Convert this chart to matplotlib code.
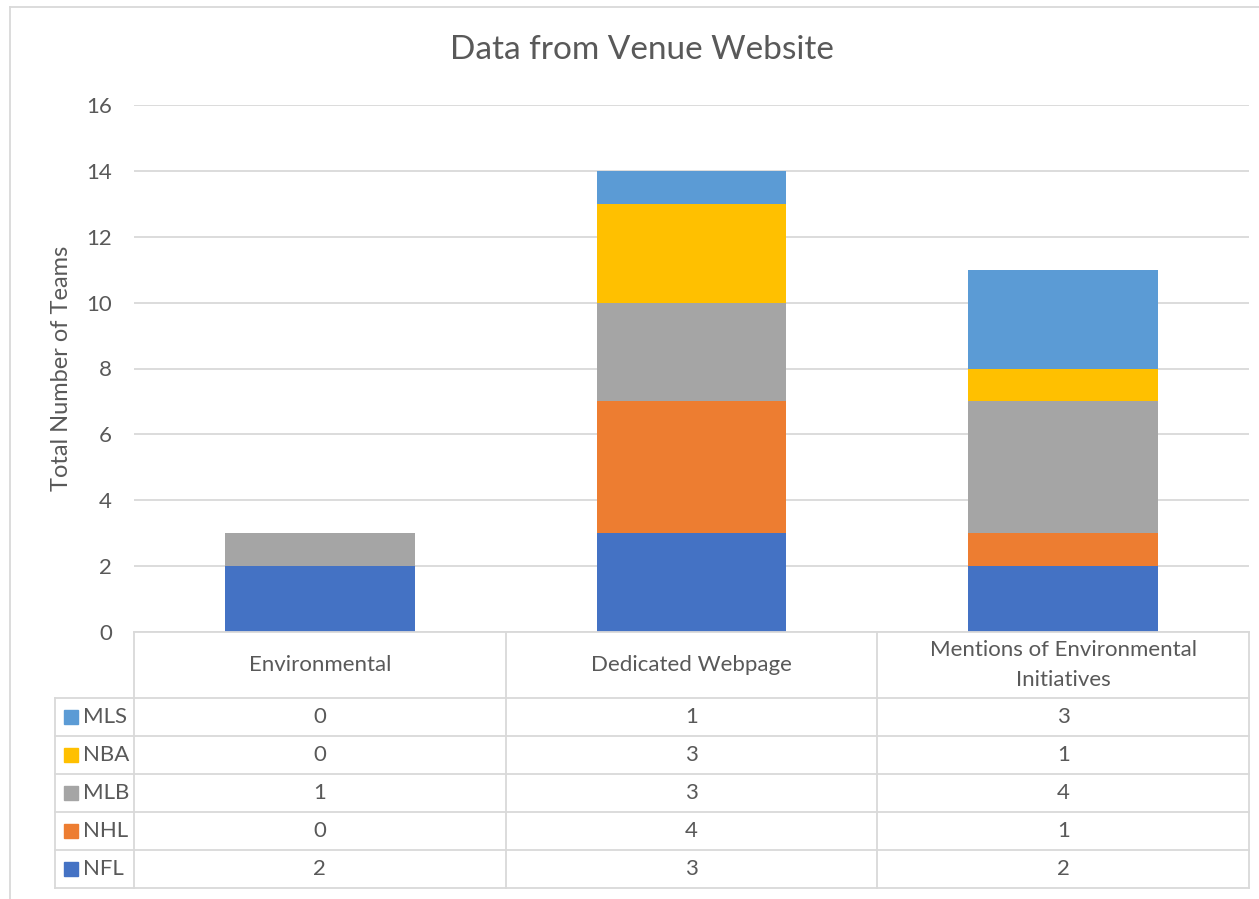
import matplotlib.pyplot as plt
from matplotlib.patches import Rectangle

# --- Data --- #
categories = ["Environmental", "Dedicated Webpage", "Mentions of Environmental\nInitiatives"]
leagues = ["NFL", "NHL", "MLB", "NBA", "MLS"]
nfl = [2, 3, 2]
nhl = [0, 4, 1]
mlb = [1, 3, 4]
nba = [0, 3, 1]
mls = [0, 1, 3]
series = [nfl, nhl, mlb, nba, mls]
colors = ["#4472C4", "#ED7D31", "#A5A5A5", "#FFC000", "#5B9BD5"]
yticks = [0, 2, 4, 6, 8, 10, 12, 14, 16]

text_col = "#595959"
grid_col = "#D9D9D9"
plt.rcParams["font.family"] = ["Lato", "DejaVu Sans"]

W, H = 1259, 899
fig = plt.figure(figsize=(W / 100, H / 100), dpi=100)

# plot area in pixels
px0, px1 = 134, 1249
py_top, py_bot = 105, 632
ax = fig.add_axes([px0 / W, 1 - py_bot / H, (px1 - px0) / W, (py_bot - py_top) / H])

x = list(range(len(categories)))
bottom = [0] * len(categories)
for vals, c in zip(series, colors):
    ax.bar(x, vals, width=0.51, bottom=bottom, color=c, zorder=3)
    bottom = [b + v for b, v in zip(bottom, vals)]

ax.set_xlim(-0.5, len(categories) - 0.5)
ax.set_ylim(0, 16)
ax.set_yticks(yticks)
ax.yaxis.grid(True, color=grid_col, linewidth=1.3, zorder=0)
ax.set_xticks([])
for s in ax.spines.values():
    s.set_visible(False)
ax.tick_params(axis="y", length=0, labelsize=16, labelcolor=text_col, pad=16)
ax.set_ylabel("Total Number of Teams", fontsize=17, color=text_col, labelpad=10)

fig.text(642 / W, 1 - 50 / H, "Data from Venue Website", ha="center", va="center",
         fontsize=24, color=text_col)

# --- Data table below the plot --- #
leg_x0 = 55
cat_w = (px1 - px0) / len(categories)
tx0 = -0.5 - (px0 - leg_x0) / cat_w
head_h, row_h = 66, 38
t_top, t_bot = 632, 888
tab = fig.add_axes([leg_x0 / W, 1 - t_bot / H, (px1 - leg_x0) / W, (t_bot - t_top) / H])
tab.set_xlim(tx0, len(categories) - 0.5)
tab.set_ylim(t_bot, t_top)
tab.axis("off")

lw = 1.3
tab.plot([-0.5, len(categories) - 0.5], [t_top, t_top], color=grid_col, lw=lw, clip_on=False)
for i in range(len(categories) + 1):
    tab.plot([i - 0.5, i - 0.5], [t_top, t_bot], color=grid_col, lw=lw, clip_on=False)
tab.plot([tx0, tx0], [t_top + head_h, t_bot], color=grid_col, lw=lw, clip_on=False)
for r in range(len(leagues) + 1):
    yy = t_top + head_h + r * row_h
    tab.plot([tx0, len(categories) - 0.5], [yy, yy], color=grid_col, lw=lw, clip_on=False)

for i, cat in enumerate(categories):
    tab.text(i, t_top + head_h / 2, cat, ha="center", va="center", fontsize=16,
             color=text_col, linespacing=1.65)

# rows: MLS on top down to NFL
for r, k in enumerate(range(len(leagues) - 1, -1, -1)):
    yc = t_top + head_h + r * row_h + row_h / 2
    for i in range(len(categories)):
        tab.text(i, yc, str(series[k][i]), ha="center", va="center", fontsize=16, color=text_col)
    tab.add_patch(Rectangle((tx0 + 9 / cat_w, yc - 7), 14 / cat_w, 14, color=colors[k], clip_on=False))
    tab.text(tx0 + 28 / cat_w, yc, leagues[k], ha="left", va="center", fontsize=16, color=text_col)

# chart border (left and top edges only are visible)
fig.add_artist(plt.Line2D([10 / W, 10 / W], [0, 1 - 7 / H], color=grid_col, lw=1.3))
fig.add_artist(plt.Line2D([10 / W, 1], [1 - 7 / H, 1 - 7 / H], color=grid_col, lw=1.3))

fig.savefig("out.png", dpi=100)
